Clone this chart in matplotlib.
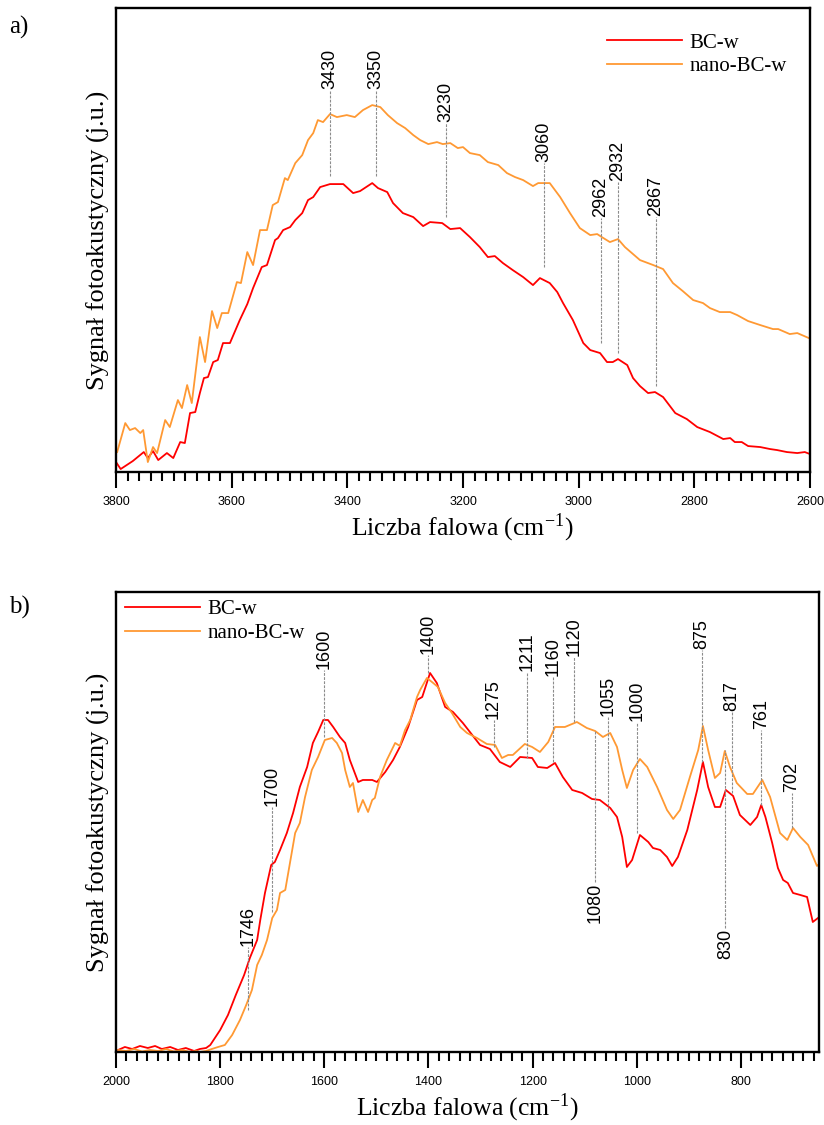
import matplotlib.pyplot as plt
from matplotlib.ticker import MultipleLocator

plt.rcParams['font.family'] = ['Liberation Serif', 'DejaVu Serif']
plt.rcParams['mathtext.fontset'] = 'stix'

# --- widmo a): zakres 3800-2600 cm-1 ---
wn_a_bc = [3800, 3792, 3771, 3752, 3745, 3736, 3727, 3712, 3701, 3689, 3681, 3672, 3663,
           3655, 3648, 3641, 3632, 3624, 3615, 3603, 3586, 3573, 3563, 3548, 3539, 3525,
           3520, 3511, 3499, 3490, 3478, 3468, 3459, 3447, 3430, 3407, 3390, 3378, 3357,
           3347, 3331, 3321, 3304, 3286, 3269, 3257, 3236, 3222, 3205, 3188, 3171, 3157,
           3145, 3131, 3114, 3096, 3079, 3067, 3050, 3037, 3027, 3010, 2992, 2980, 2963,
           2951, 2941, 2932, 2916, 2906, 2894, 2880, 2868, 2854, 2833, 2813, 2795, 2773,
           2750, 2738, 2730, 2718, 2707, 2686, 2669, 2657, 2640, 2622, 2609, 2600]
sig_a_bc = [10, 3, 11, 20, 14, 21, 12, 19, 14, 30, 29, 59, 60,
            79, 94, 95, 110, 112, 129, 129, 152, 168, 184, 205, 207, 232,
            234, 242, 245, 252, 259, 272, 275, 285, 288, 288, 279, 281, 289,
            284, 280, 269, 259, 255, 246, 250, 249, 243, 244, 235, 225, 215,
            216, 209, 202, 195, 187, 194, 189, 180, 169, 152, 129, 122, 119,
            110, 110, 113, 107, 94, 86, 79, 80, 75, 59, 53, 45, 40,
            33, 34, 30, 30, 26, 25, 23, 22, 20, 19, 20, 18]

wn_a_nano = [3798, 3784, 3776, 3767, 3758, 3753, 3745, 3736, 3729, 3715, 3707, 3693, 3686,
             3677, 3669, 3655, 3646, 3634, 3625, 3617, 3606, 3591, 3584, 3573, 3563, 3551,
             3539, 3529, 3520, 3508, 3503, 3490, 3478, 3468, 3459, 3451, 3442, 3430, 3418,
             3401, 3387, 3373, 3357, 3343, 3330, 3314, 3300, 3286, 3274, 3260, 3245, 3235,
             3222, 3209, 3200, 3188, 3171, 3157, 3139, 3124, 3110, 3096, 3079, 3070, 3050,
             3032, 3015, 2998, 2980, 2968, 2960, 2946, 2932, 2920, 2894, 2871, 2854, 2837,
             2820, 2802, 2785, 2773, 2756, 2738, 2726, 2707, 2686, 2664, 2655, 2635, 2622,
             2614, 2602]
sig_a_nano = [20, 49, 42, 44, 39, 42, 10, 25, 19, 52, 45, 72, 64,
              87, 69, 135, 110, 161, 144, 159, 159, 190, 189, 220, 207, 242,
              242, 267, 270, 294, 292, 309, 317, 332, 339, 352, 350, 358, 355,
              357, 355, 362, 367, 365, 357, 349, 344, 337, 332, 328, 330, 328,
              329, 324, 325, 319, 317, 310, 307, 299, 295, 292, 286, 289, 289,
              275, 259, 244, 237, 238, 235, 230, 233, 225, 212, 207, 203, 189,
              181, 172, 169, 164, 160, 160, 157, 151, 147, 143, 143, 138, 139,
              137, 134]

# pasma opisane na wykresie a): liczba falowa, wysokosc opisu, koniec linii
peaks_a = [3430, 3350, 3230, 3060, 2962, 2932, 2867]
label_y_a = [382, 382, 349, 309, 254, 290, 255]
line_end_a = [296, 296, 255, 205, 129, 119, 86]

# --- widmo b): zakres 2000-650 cm-1 ---
wn_b_bc = [1996, 1983, 1969, 1954, 1939, 1925, 1912, 1896, 1881, 1866, 1850, 1839, 1827,
           1819, 1800, 1785, 1770, 1754, 1743, 1729, 1723, 1714, 1702, 1695, 1685, 1672,
           1660, 1647, 1633, 1622, 1612, 1602, 1593, 1583, 1570, 1560, 1551, 1535, 1526,
           1516, 1508, 1499, 1483, 1468, 1455, 1439, 1422, 1412, 1397, 1384, 1368, 1353,
           1334, 1316, 1301, 1282, 1263, 1243, 1224, 1201, 1190, 1172, 1157, 1142, 1124,
           1105, 1086, 1071, 1051, 1038, 1028, 1019, 1009, 994, 978, 969, 955, 942, 932,
           921, 903, 884, 873, 863, 850, 840, 829, 815, 802, 782, 769, 761, 753, 740, 729,
           719, 710, 700, 686, 673, 662, 652]
sig_b_bc = [2, 5, 3, 6, 4, 6, 3, 5, 2, 4, 1, 3, 4,
            7, 22, 37, 57, 77, 94, 112, 132, 159, 187, 190, 202, 219,
            239, 265, 285, 309, 320, 332, 332, 325, 315, 309, 292, 270, 272,
            272, 272, 270, 280, 292, 305, 325, 352, 355, 379, 369, 345, 340,
            329, 317, 307, 303, 290, 285, 295, 294, 285, 284, 289, 275, 262,
            259, 253, 252, 244, 235, 215, 185, 192, 217, 210, 204, 202, 195, 186,
            195, 222, 262, 290, 265, 245, 245, 262, 256, 237, 227, 235, 247, 235, 209, 184,
            172, 169, 159, 157, 155, 130, 134]

wn_b_nano = [1996, 1981, 1965, 1950, 1935, 1919, 1904, 1889, 1873, 1858, 1846, 1839, 1827,
             1816, 1804, 1791, 1777, 1762, 1750, 1739, 1729, 1720, 1710, 1700, 1691, 1685,
             1675, 1666, 1656, 1647, 1637, 1624, 1612, 1599, 1585, 1576, 1566, 1560, 1551,
             1545, 1535, 1526, 1516, 1508, 1503, 1493, 1480, 1464, 1455, 1445, 1435, 1422,
             1416, 1403, 1391, 1382, 1368, 1355, 1339, 1326, 1307, 1288, 1272, 1259, 1247,
             1238, 1215, 1201, 1186, 1170, 1157, 1138, 1115, 1096, 1080, 1065, 1051, 1038,
             1028, 1019, 1007, 994, 980, 961, 942, 930, 917, 898, 882, 873, 863, 850, 840,
             831, 821, 808, 788, 777, 759, 744, 725, 711, 700, 686, 671, 654, 648]
sig_b_nano = [2, 1, 3, 0.5, 2, 1, 3, 0.5, 2, 0, 1, 0, 1,
              3, 5, 7, 17, 32, 47, 62, 87, 97, 112, 134, 142, 159,
              162, 189, 219, 229, 255, 282, 295, 312, 314, 309, 299, 282, 265,
              269, 240, 252, 240, 252, 254, 275, 292, 309, 306, 322, 332, 355,
              362, 374, 369, 365, 349, 339, 325, 319, 314, 308, 307, 294, 297,
              297, 308, 305, 300, 310, 325, 325, 330, 324, 321, 315, 319, 305,
              282, 264, 282, 293, 285, 265, 242, 233, 242, 275, 302, 326, 302, 274, 279,
              301, 285, 269, 258, 258, 272, 255, 219, 212, 224, 215, 207, 186, 189]

# pasma opisane nad widmami b)
peaks_b = [1746, 1700, 1600, 1400, 1275, 1211, 1160, 1120, 1055, 1000, 875, 817, 761, 702]
label_y_b = [105, 245, 382, 397, 332, 380, 375, 395, 335, 330, 402, 340, 322, 259]
line_end_b = [42, 140, 315, 379, 305, 294, 290, 330, 242, 219, 290, 259, 247, 224]
# pasma opisane pod widmami b)
peaks_b_low = [1080, 830]
line_top_b_low = [322, 302]
label_y_b_low = [170, 124]

RED = '#ff0000'
ORANGE = '#ff9933'
GUIDE = dict(color='0.55', lw=0.8, ls=(0, (2.5, 1.2)))


def style_axes(ax, xlim, ylim):
    ax.set_xlim(*xlim)
    ax.set_ylim(*ylim)
    ax.set_yticks([])
    ax.xaxis.set_major_locator(MultipleLocator(200))
    ax.xaxis.set_minor_locator(MultipleLocator(20))
    ax.tick_params(axis='x', which='major', direction='out', length=11.5, width=1.5,
                   pad=6, labelsize=9)
    ax.tick_params(axis='x', which='minor', direction='out', length=6.5, width=1.5)
    for lbl in ax.get_xticklabels():
        lbl.set_family(['Liberation Sans', 'DejaVu Sans'])
    for sp in ax.spines.values():
        sp.set_linewidth(1.7)
    ax.set_xlabel('Liczba falowa (cm$^{\\mathregular{-1}}$)', fontsize=18.5, labelpad=2)
    ax.set_ylabel('Sygnał fotoakustyczny (j.u.)', fontsize=19, labelpad=4)


def mark_above(ax, xs, tops, ends):
    for x, t, e in zip(xs, tops, ends):
        ax.plot([x, x], [e, t], **GUIDE)
        ax.text(x, t + 1, str(x), rotation=90, ha='center', va='bottom', fontsize=13,
                family=['Liberation Sans', 'DejaVu Sans'])


fig = plt.figure(figsize=(8.24, 11.25), dpi=100)

ax1 = fig.add_axes([0.1408, 0.5804, 0.8422, 0.4124])
ax1.plot(wn_a_bc, sig_a_bc, color=RED, lw=1.3, label='BC-w')
ax1.plot(wn_a_nano, sig_a_nano, color=ORANGE, lw=1.3, label='nano-BC-w')
mark_above(ax1, peaks_a, label_y_a, line_end_a)
style_axes(ax1, (3800, 2600), (0, 464))
ax1.legend(loc='upper left', bbox_to_anchor=(0.7075, 0.946), frameon=False, fontsize=15,
           handlelength=3.6, handletextpad=0.35, labelspacing=0.2, borderpad=0,
           borderaxespad=0)

ax2 = fig.add_axes([0.1408, 0.0649, 0.8532, 0.4089])
ax2.plot(wn_b_bc, sig_b_bc, color=RED, lw=1.3, label='BC-w')
ax2.plot(wn_b_nano, sig_b_nano, color=ORANGE, lw=1.3, label='nano-BC-w')
mark_above(ax2, peaks_b, label_y_b, line_end_b)
for x, t, b in zip(peaks_b_low, line_top_b_low, label_y_b_low):
    ax2.plot([x, x], [b, t], **GUIDE)
    ax2.text(x, b - 1, str(x), rotation=90, ha='center', va='top', fontsize=13,
             family=['Liberation Sans', 'DejaVu Sans'])
style_axes(ax2, (2000, 650), (0, 460))
ax2.legend(loc='upper left', bbox_to_anchor=(0.0128, 0.983), frameon=False, fontsize=15,
           handlelength=3.6, handletextpad=0.35, labelspacing=0.2, borderpad=0,
           borderaxespad=0)

fig.text(0.011, 0.976, 'a)', fontsize=18, va='center')
fig.text(0.011, 0.4604, 'b)', fontsize=18, va='center')

fig.savefig('out.png', dpi=100)
